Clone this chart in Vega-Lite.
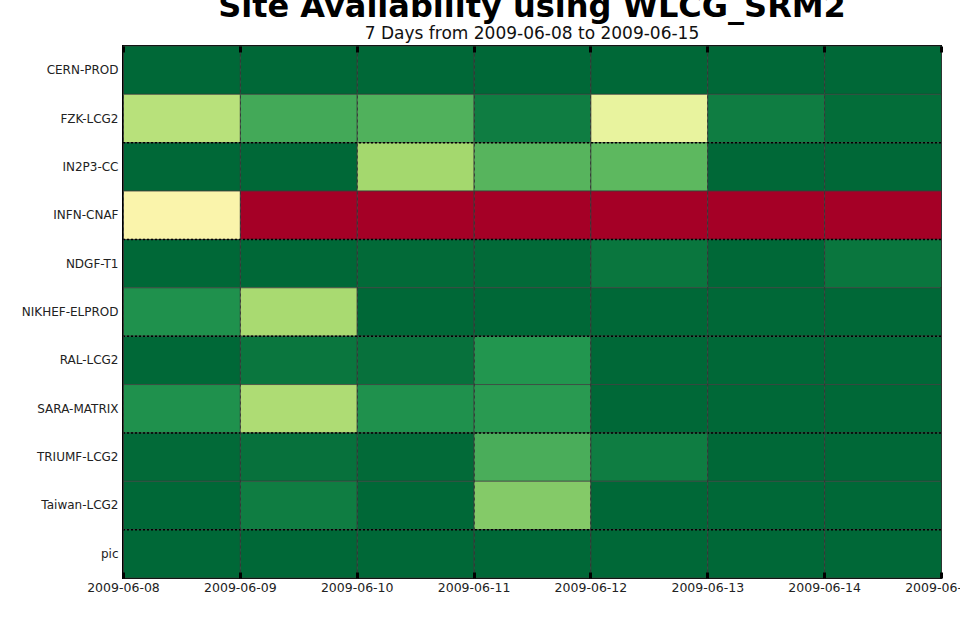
{
  "$schema": "https://vega.github.io/schema/vega-lite/v6.json",
  "width": 818,
  "height": 532,
  "autosize": {"type": "none"},
  "padding": {"left": 123, "top": 46, "right": 19, "bottom": 52},
  "background": "white",
  "config": {
    "view": {"stroke": "black", "strokeWidth": 2},
    "font": "DejaVu Sans"
  },
  "title": {
    "text": "Site Availability using WLCG_SRM2",
    "subtitle": "7 Days from 2009-06-08 to 2009-06-15",
    "fontSize": 32,
    "fontWeight": "bold",
    "font": "DejaVu Sans",
    "color": "black",
    "subtitleFontSize": 17,
    "subtitleFont": "DejaVu Sans",
    "subtitleColor": "#111",
    "subtitlePadding": 2,
    "offset": 2,
    "anchor": "middle"
  },
  "datasets": {
    "avail": [
      {"site": "CERN-PROD", "date": "2009-06-08", "value": 100},
      {"site": "CERN-PROD", "date": "2009-06-09", "value": 100},
      {"site": "CERN-PROD", "date": "2009-06-10", "value": 100},
      {"site": "CERN-PROD", "date": "2009-06-11", "value": 100},
      {"site": "CERN-PROD", "date": "2009-06-12", "value": 100},
      {"site": "CERN-PROD", "date": "2009-06-13", "value": 100},
      {"site": "CERN-PROD", "date": "2009-06-14", "value": 100},
      {"site": "FZK-LCG2", "date": "2009-06-08", "value": 66},
      {"site": "FZK-LCG2", "date": "2009-06-09", "value": 85},
      {"site": "FZK-LCG2", "date": "2009-06-10", "value": 83},
      {"site": "FZK-LCG2", "date": "2009-06-11", "value": 95.5},
      {"site": "FZK-LCG2", "date": "2009-06-12", "value": 55},
      {"site": "FZK-LCG2", "date": "2009-06-13", "value": 95.5},
      {"site": "FZK-LCG2", "date": "2009-06-14", "value": 99},
      {"site": "IN2P3-CC", "date": "2009-06-08", "value": 100},
      {"site": "IN2P3-CC", "date": "2009-06-09", "value": 100},
      {"site": "IN2P3-CC", "date": "2009-06-10", "value": 70},
      {"site": "IN2P3-CC", "date": "2009-06-11", "value": 82},
      {"site": "IN2P3-CC", "date": "2009-06-12", "value": 81},
      {"site": "IN2P3-CC", "date": "2009-06-13", "value": 100},
      {"site": "IN2P3-CC", "date": "2009-06-14", "value": 100},
      {"site": "INFN-CNAF", "date": "2009-06-08", "value": 49},
      {"site": "INFN-CNAF", "date": "2009-06-09", "value": 0},
      {"site": "INFN-CNAF", "date": "2009-06-10", "value": 0},
      {"site": "INFN-CNAF", "date": "2009-06-11", "value": 0},
      {"site": "INFN-CNAF", "date": "2009-06-12", "value": 0},
      {"site": "INFN-CNAF", "date": "2009-06-13", "value": 0},
      {"site": "INFN-CNAF", "date": "2009-06-14", "value": 0},
      {"site": "NDGF-T1", "date": "2009-06-08", "value": 100},
      {"site": "NDGF-T1", "date": "2009-06-09", "value": 100},
      {"site": "NDGF-T1", "date": "2009-06-10", "value": 99.5},
      {"site": "NDGF-T1", "date": "2009-06-11", "value": 99.5},
      {"site": "NDGF-T1", "date": "2009-06-12", "value": 97},
      {"site": "NDGF-T1", "date": "2009-06-13", "value": 100},
      {"site": "NDGF-T1", "date": "2009-06-14", "value": 97},
      {"site": "NIKHEF-ELPROD", "date": "2009-06-08", "value": 91},
      {"site": "NIKHEF-ELPROD", "date": "2009-06-09", "value": 69},
      {"site": "NIKHEF-ELPROD", "date": "2009-06-10", "value": 100},
      {"site": "NIKHEF-ELPROD", "date": "2009-06-11", "value": 100},
      {"site": "NIKHEF-ELPROD", "date": "2009-06-12", "value": 100},
      {"site": "NIKHEF-ELPROD", "date": "2009-06-13", "value": 100},
      {"site": "NIKHEF-ELPROD", "date": "2009-06-14", "value": 100},
      {"site": "RAL-LCG2", "date": "2009-06-08", "value": 100},
      {"site": "RAL-LCG2", "date": "2009-06-09", "value": 97},
      {"site": "RAL-LCG2", "date": "2009-06-10", "value": 98},
      {"site": "RAL-LCG2", "date": "2009-06-11", "value": 90},
      {"site": "RAL-LCG2", "date": "2009-06-12", "value": 100},
      {"site": "RAL-LCG2", "date": "2009-06-13", "value": 100},
      {"site": "RAL-LCG2", "date": "2009-06-14", "value": 100},
      {"site": "SARA-MATRIX", "date": "2009-06-08", "value": 91},
      {"site": "SARA-MATRIX", "date": "2009-06-09", "value": 68},
      {"site": "SARA-MATRIX", "date": "2009-06-10", "value": 91},
      {"site": "SARA-MATRIX", "date": "2009-06-11", "value": 89},
      {"site": "SARA-MATRIX", "date": "2009-06-12", "value": 100},
      {"site": "SARA-MATRIX", "date": "2009-06-13", "value": 100},
      {"site": "SARA-MATRIX", "date": "2009-06-14", "value": 100},
      {"site": "TRIUMF-LCG2", "date": "2009-06-08", "value": 99.5},
      {"site": "TRIUMF-LCG2", "date": "2009-06-09", "value": 98},
      {"site": "TRIUMF-LCG2", "date": "2009-06-10", "value": 99.5},
      {"site": "TRIUMF-LCG2", "date": "2009-06-11", "value": 84},
      {"site": "TRIUMF-LCG2", "date": "2009-06-12", "value": 95.5},
      {"site": "TRIUMF-LCG2", "date": "2009-06-13", "value": 100},
      {"site": "TRIUMF-LCG2", "date": "2009-06-14", "value": 100},
      {"site": "Taiwan-LCG2", "date": "2009-06-08", "value": 100},
      {"site": "Taiwan-LCG2", "date": "2009-06-09", "value": 95.5},
      {"site": "Taiwan-LCG2", "date": "2009-06-10", "value": 100},
      {"site": "Taiwan-LCG2", "date": "2009-06-11", "value": 75},
      {"site": "Taiwan-LCG2", "date": "2009-06-12", "value": 100},
      {"site": "Taiwan-LCG2", "date": "2009-06-13", "value": 100},
      {"site": "Taiwan-LCG2", "date": "2009-06-14", "value": 100},
      {"site": "pic", "date": "2009-06-08", "value": 100},
      {"site": "pic", "date": "2009-06-09", "value": 100},
      {"site": "pic", "date": "2009-06-10", "value": 100},
      {"site": "pic", "date": "2009-06-11", "value": 100},
      {"site": "pic", "date": "2009-06-12", "value": 100},
      {"site": "pic", "date": "2009-06-13", "value": 100},
      {"site": "pic", "date": "2009-06-14", "value": 100}
    ],
    "separators": [
      {"site": "IN2P3-CC"},
      {"site": "NDGF-T1"},
      {"site": "RAL-LCG2"},
      {"site": "TRIUMF-LCG2"},
      {"site": "pic"}
    ]
  },
  "layer": [
    {
      "data": {"name": "avail"},
      "mark": {"type": "rect", "stroke": "#3c3c3c", "strokeWidth": 0.7},
      "encoding": {
        "x": {
          "field": "date",
          "type": "temporal",
          "timeUnit": "utcyearmonthdate",
          "scale": {
            "type": "utc",
            "domain": [
              {"year": 2009, "month": 6, "date": 8, "utc": true},
              {"year": 2009, "month": 6, "date": 15, "utc": true}
            ]
          },
          "axis": {
            "orient": "bottom",
            "title": null,
            "format": "%Y-%m-%d",
            "tickCount": {"interval": "day", "step": 1},
            "labelFont": "DejaVu Sans",
            "labelFontSize": 12.5,
            "labelColor": "#222",
            "labelOverlap": false,
            "labelFlush": false,
            "labelBound": false,
            "labelPadding": 9,
            "tickSize": -6,
            "tickWidth": 3,
            "tickColor": "black",
            "domain": false,
            "grid": true,
            "gridColor": "#333",
            "gridDash": [3, 3],
            "gridWidth": 0.8,
            "zindex": 1
          }
        },
        "y": {
          "field": "site",
          "type": "nominal",
          "scale": {
            "domain": ["CERN-PROD", "FZK-LCG2", "IN2P3-CC", "INFN-CNAF", "NDGF-T1", "NIKHEF-ELPROD", "RAL-LCG2", "SARA-MATRIX", "TRIUMF-LCG2", "Taiwan-LCG2", "pic"],
            "paddingInner": 0,
            "paddingOuter": 0
          },
          "axis": {
            "title": null,
            "ticks": false,
            "domain": false,
            "labelFont": "DejaVu Sans",
            "labelFontSize": 12,
            "labelColor": "#222",
            "labelPadding": 5
          }
        },
        "color": {
          "field": "value",
          "type": "quantitative",
          "scale": {"scheme": "redyellowgreen", "domain": [0, 100]},
          "legend": null
        }
      }
    },
    {
      "data": {"name": "avail"},
      "mark": {"type": "rect", "fillOpacity": 0, "strokeOpacity": 0},
      "encoding": {
        "x": {
          "field": "date",
          "type": "temporal",
          "timeUnit": "utcyearmonthdate",
          "axis": {
            "orient": "top",
            "title": null,
            "labels": false,
            "tickCount": {"interval": "day", "step": 1},
            "tickSize": -6,
            "tickWidth": 3,
            "tickColor": "black",
            "domain": false,
            "grid": false,
            "zindex": 1
          }
        },
        "y": {"field": "site", "type": "nominal"}
      }
    },
    {
      "data": {"name": "separators"},
      "mark": {"type": "rule", "color": "black", "strokeWidth": 1.5, "strokeDash": [2, 2]},
      "encoding": {
        "y": {"field": "site", "type": "nominal", "bandPosition": 0}
      }
    }
  ],
  "resolve": {"axis": {"x": "independent"}}
}
